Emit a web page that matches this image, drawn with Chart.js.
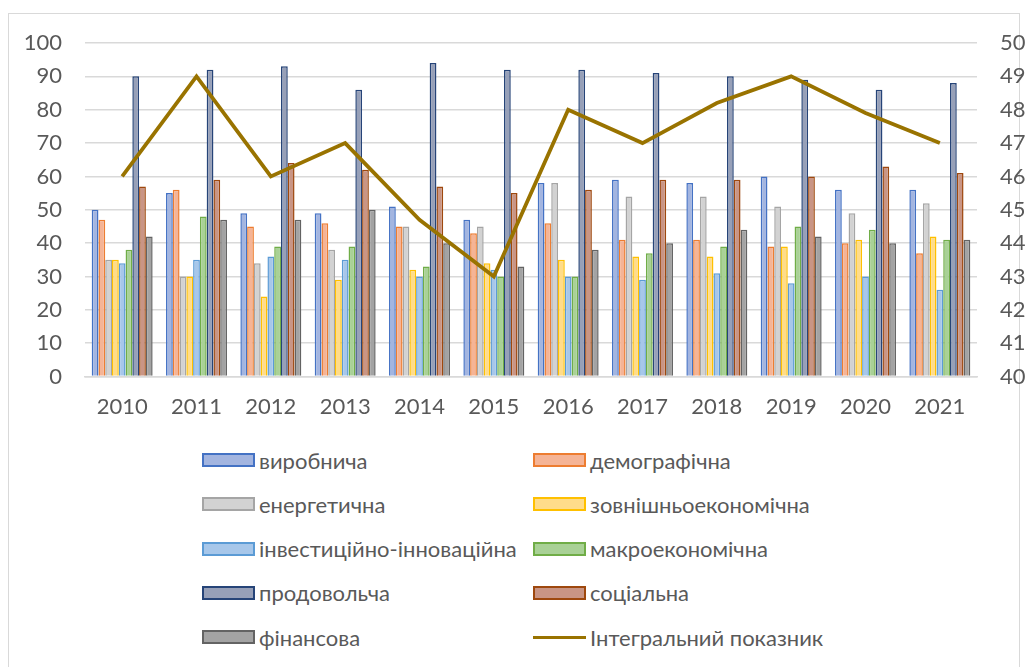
<!DOCTYPE html>
<html>
<head>
<meta charset="utf-8">
<script src="https://cdn.jsdelivr.net/npm/chart.js@4.4.1/dist/chart.umd.min.js"></script>
<style>
  html, body { margin: 0; padding: 0; background: #fff; }
  body { width: 1027px; height: 667px; position: relative; overflow: hidden; font-family: Lato, "Noto Sans", sans-serif; }
  #frame { position: absolute; left: 8px; top: 13px; width: 1010px; height: 700px; border: 1.5px solid #d9d9d9; }
  #wrap { position: absolute; left: 0; top: 0; width: 1027px; height: 440px; }
  #legend { position: absolute; left: 202px; top: 446px; display: grid; grid-template-columns: 331px 300px; grid-auto-rows: 44.3px; }
  .item { display: flex; align-items: center; height: 28px; color: #595959; font-size: 22px; white-space: nowrap; }
  .sw { width: 49px; height: 10px; margin-right: 4px; border: 2px solid; flex: none; }
  .ln { width: 53px; height: 3px; margin-right: 4px; flex: none; }
</style>
</head>
<body>
<div id="frame"></div>
<div id="wrap"><canvas id="chart"></canvas></div>
<div id="legend"></div>
<script>
// роки
const years = ["2010", "2011", "2012", "2013", "2014", "2015", "2016", "2017", "2018", "2019", "2020", "2021"]

// складові (ліва вісь)
const vyrobnycha   = [50, 55, 49, 49, 51, 47, 58, 59, 58, 60, 56, 56]
const demografichna = [47, 56, 45, 46, 45, 43, 46, 41, 41, 39, 40, 37]
const energetychna = [35, 30, 34, 38, 45, 45, 58, 54, 54, 51, 49, 52]
const zovnishnio   = [35, 30, 24, 29, 32, 34, 35, 36, 36, 39, 41, 42]
const investytsiina = [34, 35, 36, 35, 30, 32, 30, 29, 31, 28, 30, 26]
const makro        = [38, 48, 39, 39, 33, 30, 30, 37, 39, 45, 44, 41]
const prodovolcha  = [90, 92, 93, 86, 94, 92, 92, 91, 90, 89, 86, 88]
const sotsialna    = [57, 59, 64, 62, 57, 55, 56, 59, 59, 60, 63, 61]
const finansova    = [42, 47, 47, 50, 40, 33, 38, 40, 44, 42, 40, 41]

// інтегральний показник (права вісь)
const integral = [46, 49, 46, 47, 44.7, 43, 48, 47, 48.2, 49, 47.9, 47]

const leftTicks = [0, 10, 20, 30, 40, 50, 60, 70, 80, 90, 100]
const rightTicks = [40, 41, 42, 43, 44, 45, 46, 47, 48, 49, 50]

const barSeries = [
  { label: "виробнича", data: vyrobnycha, border: "#4472c4", fill: "#a3b5e0" },
  { label: "демографічна", data: demografichna, border: "#ed7d31", fill: "#f5b496" },
  { label: "енергетична", data: energetychna, border: "#a5a5a5", fill: "#d2d2d2" },
  { label: "зовнішньоекономічна", data: zovnishnio, border: "#ffc000", fill: "#ffdc8a" },
  { label: "інвестиційно-інноваційна", data: investytsiina, border: "#5b9bd5", fill: "#a7c7ea" },
  { label: "макроекономічна", data: makro, border: "#70ad47", fill: "#a9d196" },
  { label: "продовольча", data: prodovolcha, border: "#264478", fill: "#97a0b8" },
  { label: "соціальна", data: sotsialna, border: "#9e480e", fill: "#c99585" },
  { label: "фінансова", data: finansova, border: "#636363", fill: "#a3a3a3" }
]
const lineColor = "#997300"

const datasets = barSeries.map(s => ({
  type: "bar",
  label: s.label,
  data: s.data,
  backgroundColor: s.fill,
  borderColor: s.border,
  borderWidth: 1.5,
  yAxisID: "y",
  categoryPercentage: 0.82,
  barPercentage: 1.0,
  order: 2
}))
datasets.push({
  type: "line",
  label: "Інтегральний показник",
  data: integral,
  borderColor: lineColor,
  backgroundColor: lineColor,
  borderWidth: 3.8,
  pointRadius: 0,
  tension: 0,
  yAxisID: "y1",
  order: 1
})

const tickFont = { family: "Lato, 'Noto Sans', sans-serif", size: 22 }

new Chart(document.getElementById("chart"), {
  data: { labels: years, datasets },
  options: {
    responsive: true,
    maintainAspectRatio: false,
    animation: false,
    layout: { padding: { left: 24, right: 1, top: 43, bottom: 3 } },
    plugins: {
      legend: { display: false },
      tooltip: { enabled: false }
    },
    scales: {
      x: {
        grid: { display: false, drawTicks: false },
        border: { display: true, color: "#d9d9d9", width: 1.5 },
        ticks: { color: "#595959", font: tickFont, padding: 17 },
        afterFit: axis => { axis.paddingLeft = 0; axis.paddingRight = 0 }
      },
      y: {
        position: "left",
        min: 0,
        max: 100,
        afterBuildTicks: axis => { axis.ticks = leftTicks.map(v => ({ value: v })) },
        afterFit: axis => { axis.width = 61 },
        grid: { color: "#d9d9d9", lineWidth: 1.5, drawTicks: false },
        border: { display: false },
        ticks: { color: "#595959", font: tickFont, padding: 23 }
      },
      y1: {
        position: "right",
        min: 40,
        max: 50,
        afterBuildTicks: axis => { axis.ticks = rightTicks.map(v => ({ value: v })) },
        afterFit: axis => { axis.width = 49 },
        grid: { drawOnChartArea: false, drawTicks: false },
        border: { display: false },
        ticks: { color: "#595959", font: tickFont, padding: 23 }
      }
    }
  }
})

// легенда у дві колонки
const legend = document.getElementById("legend")
const legendItems = barSeries.map(s => ({ label: s.label, border: s.border, fill: s.fill }))
legendItems.push({ label: "Інтегральний показник", line: lineColor })
legendItems.forEach(it => {
  const row = document.createElement("div")
  row.className = "item"
  const mark = document.createElement("span")
  if (it.line) {
    mark.className = "ln"
    mark.style.background = it.line
  } else {
    mark.className = "sw"
    mark.style.borderColor = it.border
    mark.style.background = it.fill
  }
  row.appendChild(mark)
  row.appendChild(document.createTextNode(it.label))
  legend.appendChild(row)
})
</script>
</body>
</html>
